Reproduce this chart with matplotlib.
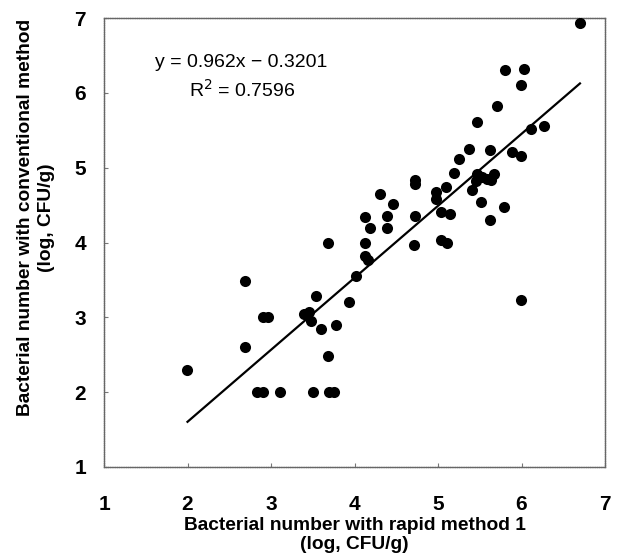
import matplotlib
matplotlib.use("Agg")
import matplotlib.pyplot as plt
from matplotlib import font_manager

rapid = [6.70, 5.80, 6.03, 5.99, 5.71, 5.47, 6.11, 6.27, 5.37, 5.62, 5.89, 5.99,
         5.25, 5.19, 4.72, 4.73, 5.47, 5.53, 5.45, 5.59, 5.67, 5.63, 5.41, 4.98,
         4.98, 5.10, 5.52, 5.79, 5.62, 4.31, 4.46, 4.13, 4.39, 4.73, 5.03, 5.14,
         4.19, 4.39, 3.68, 4.13, 4.71, 5.03, 5.11, 4.13, 4.16, 4.02, 2.69, 3.54,
         3.94, 5.99, 2.91, 2.96, 3.39, 3.45, 3.48, 3.60, 3.78, 2.69, 3.68, 1.99,
         2.83, 2.90, 3.11, 3.50, 3.69, 3.75]
conventional = [6.93, 6.30, 6.32, 6.11, 5.82, 5.61, 5.52, 5.56, 5.25, 5.23, 5.21, 5.15,
                5.11, 4.93, 4.84, 4.78, 4.91, 4.88, 4.82, 4.85, 4.91, 4.83, 4.70, 4.67,
                4.58, 4.74, 4.54, 4.47, 4.30, 4.65, 4.52, 4.34, 4.36, 4.36, 4.41, 4.38,
                4.20, 4.20, 3.99, 3.99, 3.97, 4.04, 4.00, 3.82, 3.76, 3.55, 3.49, 3.28,
                3.20, 3.23, 3.00, 3.00, 3.04, 3.07, 2.95, 2.84, 2.90, 2.60, 2.48, 2.30,
                2.00, 2.00, 2.00, 2.00, 2.00, 2.00]
slope = 0.962
intercept = -0.3201
r2 = 0.7596
fit_x = [2.0, 6.7]
ticks = [1, 2, 3, 4, 5, 6, 7]

names = {f.name for f in font_manager.fontManager.ttflist}
fam = "Liberation Sans Narrow" if "Liberation Sans Narrow" in names else "Liberation Sans"

plt.rcParams['font.family'] = ['Liberation Sans', 'DejaVu Sans']

fig = plt.figure(figsize=(6.2, 5.6), dpi=100)
ax = fig.add_axes([104/620, 1-467/560, (605-104)/620, (467-18)/560])

ax.scatter(rapid, conventional, s=64, color='black', zorder=3, linewidths=0)
ax.plot(fit_x, [slope*v + intercept for v in fit_x], color='black', lw=1.6, zorder=2)

ax.set_xlim(1, 7)
ax.set_ylim(1, 7)
ax.set_xticks(ticks)
ax.set_yticks(ticks)
ax.set_xticklabels([str(t) for t in ticks], fontsize=15, fontweight='bold', family=[fam, 'DejaVu Sans'])
ax.set_yticklabels([str(t) for t in ticks], fontsize=15, fontweight='bold', family=[fam, 'DejaVu Sans'])
ax.tick_params(axis='both', direction='in', length=3, width=0.8, color='#777777')
ax.tick_params(axis='x', pad=20)
ax.tick_params(axis='y', pad=13)
for sp in ax.spines.values():
    sp.set_color('#666666')
    sp.set_linewidth(1.0)
    sp.set_linestyle((0, (1, 0.6)))

ax.set_xlabel("Bacterial number with rapid method 1\n(log, CFU/g)", fontsize=13.8,
              fontweight='bold', linespacing=1.15, labelpad=2)
ax.set_ylabel("Bacterial number with conventional method\n(log, CFU/g)", fontsize=13.8,
              fontweight='bold', linespacing=1.3)
ax.yaxis.set_label_coords(-0.098, 0.555)

ax.text(1.61, 6.41, "y = 0.962x − 0.3201", fontsize=14, ha='left', va='center')
ax.text(2.02, 6.04, "R$^2$ = 0.7596", fontsize=14, ha='left', va='center')

fig.savefig("out.png", dpi=100)
